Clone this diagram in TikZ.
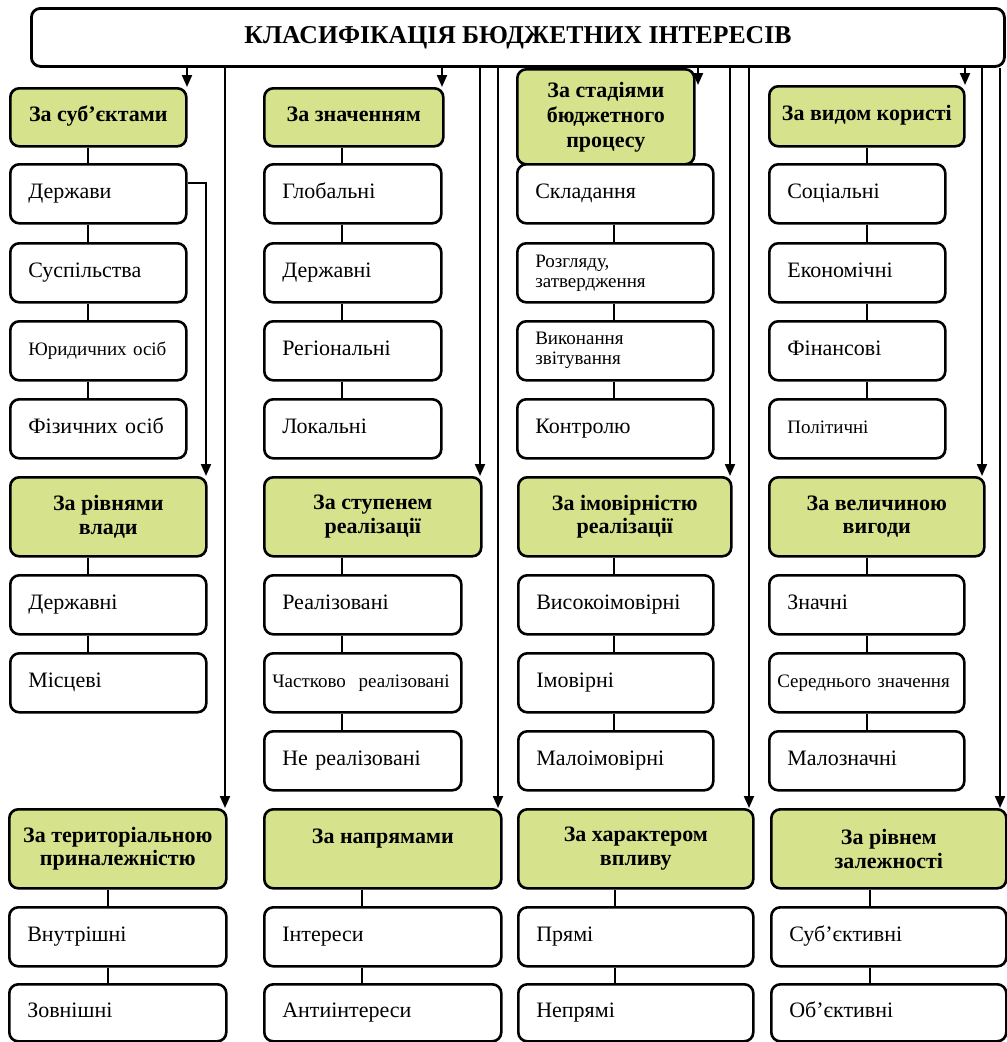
\documentclass[tikz,border=0pt]{standalone}
\usepackage{fontspec}
\setmainfont{Liberation Serif}
\usetikzlibrary{arrows.meta}
\definecolor{hdrfill}{RGB}{214,226,140}
\tikzset{
  box/.style={draw=black, line width=2.6pt, rounded corners=9pt, anchor=north west, inner ysep=0pt},
  hdr/.style={box, fill=hdrfill, align=center, inner xsep=4pt,
     font=\fontsize{22pt}{23.5pt}\selectfont\bfseries},
  hdr1/.style={hdr, text height=15pt, text depth=6pt},
  kid/.style={box, fill=white, align=left, inner xsep=18pt, minimum height=59pt, text width=#1,
     font=\fontsize{22pt}{23pt}\selectfont, text height=15.5pt, text depth=5.5pt},
  kidsm/.style={kid=#1, font=\fontsize{19pt}{20pt}\selectfont},
  kid2/.style={kidsm=#1, text height=, text depth=},
  conn/.style={line width=2.4pt},
  arr/.style={line width=2pt, -{Triangle[width=10pt,length=12pt]}},
}
\begin{document}
\begin{tikzpicture}[x=1pt,y=-1pt]
\useasboundingbox (0,0) rectangle (1007,1042);
% title
\node[box, fill=white, minimum width=973pt, minimum height=58pt, line width=2.8pt,
  font=\fontsize{25.7pt}{27pt}\selectfont\bfseries] (title) at (30,7) {КЛАСИФІКАЦІЯ БЮДЖЕТНИХ ІНТЕРЕСІВ};

% ---------- column 1 ----------
\node[hdr1, minimum width=176pt, minimum height=58pt] (h11) at (9,87) {За суб’єктами};
\node[kid=140pt] (k11) at (9,163) {Держави};
\node[kid=140pt] (k12) at (9,242) {Суспільства};
\node[kidsm=140pt] (k13) at (9,320) {Юридичних осіб};
\node[kid=140pt] (k14) at (9,398) {Фізичних осіб};
\node[hdr, minimum width=196pt, minimum height=79pt] (h12) at (9,476) {За рівнями\\влади};
\node[kid=160pt] (k15) at (9,574) {Державні};
\node[kid=160pt] (k16) at (9,652) {Місцеві};
\node[hdr, minimum width=217pt, minimum height=79pt] (h13) at (8,808) {За територіальною\\приналежністю};
\node[kid=181pt] (k17) at (8,906) {Внутрішні};
\node[kid=181pt, minimum height=57pt] (k18) at (8,983) {Зовнішні};

% ---------- column 2 ----------
\node[hdr1, minimum width=179pt, minimum height=58pt] (h21) at (263,87) {За значенням};
\node[kid=141pt] (k21) at (263,163) {Глобальні};
\node[kid=141pt] (k22) at (263,242) {Державні};
\node[kid=141pt] (k23) at (263,320) {Регіональні};
\node[kid=141pt] (k24) at (263,398) {Локальні};
\node[hdr, minimum width=217pt, minimum height=79pt] (h22) at (263,476) {За ступенем\\реалізації};
\node[kid=161pt] (k25) at (263,574) {Реалізовані};
\node[kidsm=181pt, inner xsep=8pt] (k26) at (263,652) {Частково\ \ реалізовані};
\node[kid=161pt] (k27) at (263,730) {Не реалізовані};
\node[hdr1, minimum width=237pt, minimum height=79pt, text depth=26pt] (h23) at (263,808) {За напрямами};
\node[kid=201pt] (k28) at (263,906) {Інтереси};
\node[kid=201pt, minimum height=57pt] (k29) at (263,983) {Антиінтереси};

% ---------- column 3 ----------
\node[hdr, minimum width=177pt, minimum height=95pt, font=\fontsize{22pt}{25pt}\selectfont\bfseries] (h31) at (516,68) {За стадіями\\бюджетного\\процесу};
\node[kid=160pt] (k31) at (516,163) {Складання};
\node[kid2=160pt] (k32) at (516,242) {Розгляду,\\затвердження};
\node[kid2=160pt] (k33) at (516,320) {Виконання\\звітування};
\node[kid=160pt] (k34) at (516,398) {Контролю};
\node[hdr, minimum width=213pt, minimum height=79pt] (h32) at (517,476) {За імовірністю\\реалізації};
\node[kid=159pt] (k35) at (517,574) {Високоімовірні};
\node[kid=159pt] (k36) at (517,652) {Імовірні};
\node[kid=159pt] (k37) at (517,730) {Малоімовірні};
\node[hdr, minimum width=235pt, minimum height=79pt] (h33) at (517,808) {За характером\\впливу};
\node[kid=199pt] (k38) at (517,906) {Прямі};
\node[kid=199pt, minimum height=57pt] (k39) at (517,983) {Непрямі};

% ---------- column 4 ----------
\node[hdr1, minimum width=195pt, minimum height=60pt] (h41) at (768,85) {За видом користі};
\node[kid=140pt] (k41) at (768,163) {Соціальні};
\node[kid=140pt] (k42) at (768,242) {Економічні};
\node[kid=140pt] (k43) at (768,320) {Фінансові};
\node[kidsm=140pt] (k44) at (768,398) {Політичні};
\node[hdr, minimum width=215pt, minimum height=79pt] (h42) at (768,476) {За величиною\\вигоди};
\node[kid=159pt] (k45) at (768,574) {Значні};
\node[kidsm=179pt, inner xsep=8pt] (k46) at (768,652) {Середнього значення};
\node[kid=159pt] (k47) at (768,730) {Малозначні};
\node[hdr, minimum width=235pt, minimum height=79pt] (h43) at (770,808) {За рівнем\\залежності};
\node[kid=199pt] (k48) at (770,906) {Суб’єктивні};
\node[kid=199pt, minimum height=57pt] (k49) at (770,983) {Об’єктивні};

% connector x positions
\coordinate (c1) at (88,0);  \coordinate (c1b) at (108,0);
\coordinate (c2) at (342,0); \coordinate (c2b) at (362,0);
\coordinate (c3) at (614,0); \coordinate (c3b) at (615,0);
\coordinate (c4) at (867,0); \coordinate (c4b) at (870,0);

\foreach \a/\b/\c in {h11/k11/c1,k11/k12/c1,k12/k13/c1,k13/k14/c1,h12/k15/c1,k15/k16/c1,h13/k17/c1b,k17/k18/c1b,
  h21/k21/c2,k21/k22/c2,k22/k23/c2,k23/k24/c2,h22/k25/c2,k25/k26/c2,k26/k27/c2,h23/k28/c2b,k28/k29/c2b,
  k31/k32/c3,k32/k33/c3,k33/k34/c3,h32/k35/c3,k35/k36/c3,k36/k37/c3,h33/k38/c3b,k38/k39/c3b,
  h41/k41/c4,k41/k42/c4,k42/k43/c4,k43/k44/c4,h42/k45/c4,k45/k46/c4,k46/k47/c4,h43/k48/c4b,k48/k49/c4b}
  \draw[conn] (\a.south -| \c) -- (\b.north -| \c);

% arrow columns
\coordinate (a1) at (187,0);  \coordinate (a2) at (225,0);
\coordinate (a3) at (442,0);  \coordinate (a4) at (480,0);  \coordinate (a5) at (498,0);
\coordinate (a6) at (698,85); \coordinate (a7) at (730,0);  \coordinate (a8) at (749,0);
\coordinate (a9) at (965,0);  \coordinate (a10) at (982,0); \coordinate (a11) at (1000,0);
\coordinate (d1) at (206,183);

\draw[arr] (title.south -| a1) -- (h11.north -| a1);
\draw[arr] (title.south -| a2) -- (h13.north -| a2);
\draw[arr] (title.south -| a3) -- (h21.north -| a3);
\draw[arr] (title.south -| a4) -- (h22.north -| a4);
\draw[arr] (title.south -| a5) -- (h23.north -| a5);
\draw[arr] (title.south -| a6) -- (a6);
\draw[arr] (title.south -| a7) -- (h32.north -| a7);
\draw[arr] (title.south -| a8) -- (h33.north -| a8);
\draw[arr] (title.south -| a9) -- (h41.north -| a9);
\draw[arr] (title.south -| a10) -- (h42.north -| a10);
\draw[arr] (title.south -| a11) -- (h43.north -| a11);
\draw[arr] (k11.east |- d1) -- (d1) -- (h12.north -| d1);
\end{tikzpicture}
\end{document}
